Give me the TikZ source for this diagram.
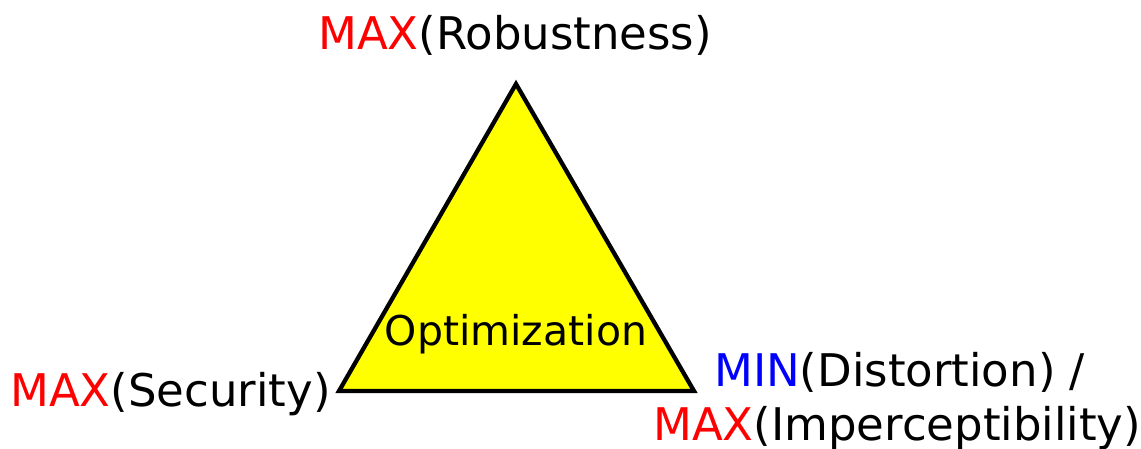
\documentclass[tikz,border=0pt]{standalone}
\usepackage{fontspec}
\setmainfont{DejaVu Sans}
\definecolor{tred}{RGB}{255,0,0}
\definecolor{tblue}{RGB}{0,0,255}
\definecolor{tyellow}{RGB}{255,255,0}
\begin{document}
\begin{tikzpicture}[x=1pt,y=-1pt,
  lbl/.style={anchor=base west,inner sep=0pt,font=\fontsize{45}{52}\selectfont},
  tri/.style={draw=black,line width=4.3pt,fill=tyellow,line join=miter}]
\useasboundingbox (0,0) rectangle (1141,449);
\coordinate (top) at (516,84);
\coordinate (bl) at (339,391);
\coordinate (br) at (694,391);
\draw[tri] (top) -- (bl) -- (br) -- cycle;
\node[anchor=base,inner sep=0pt,font=\fontsize{41}{48}\selectfont] (opt) at (516,345) {Optimization};
\node[lbl] (rob) at (318,50) {\textcolor{tred}{MAX}(Robustness)};
\node[lbl] (sec) at (10,406) {\textcolor{tred}{MAX}(Security)};
\node[lbl] (dist) at (714,386) {\textcolor{tblue}{MIN}(Distortion) /};
\node[lbl] (imp) at (653,440) {\textcolor{tred}{MAX}(Imperceptibility)};
\end{tikzpicture}
\end{document}
